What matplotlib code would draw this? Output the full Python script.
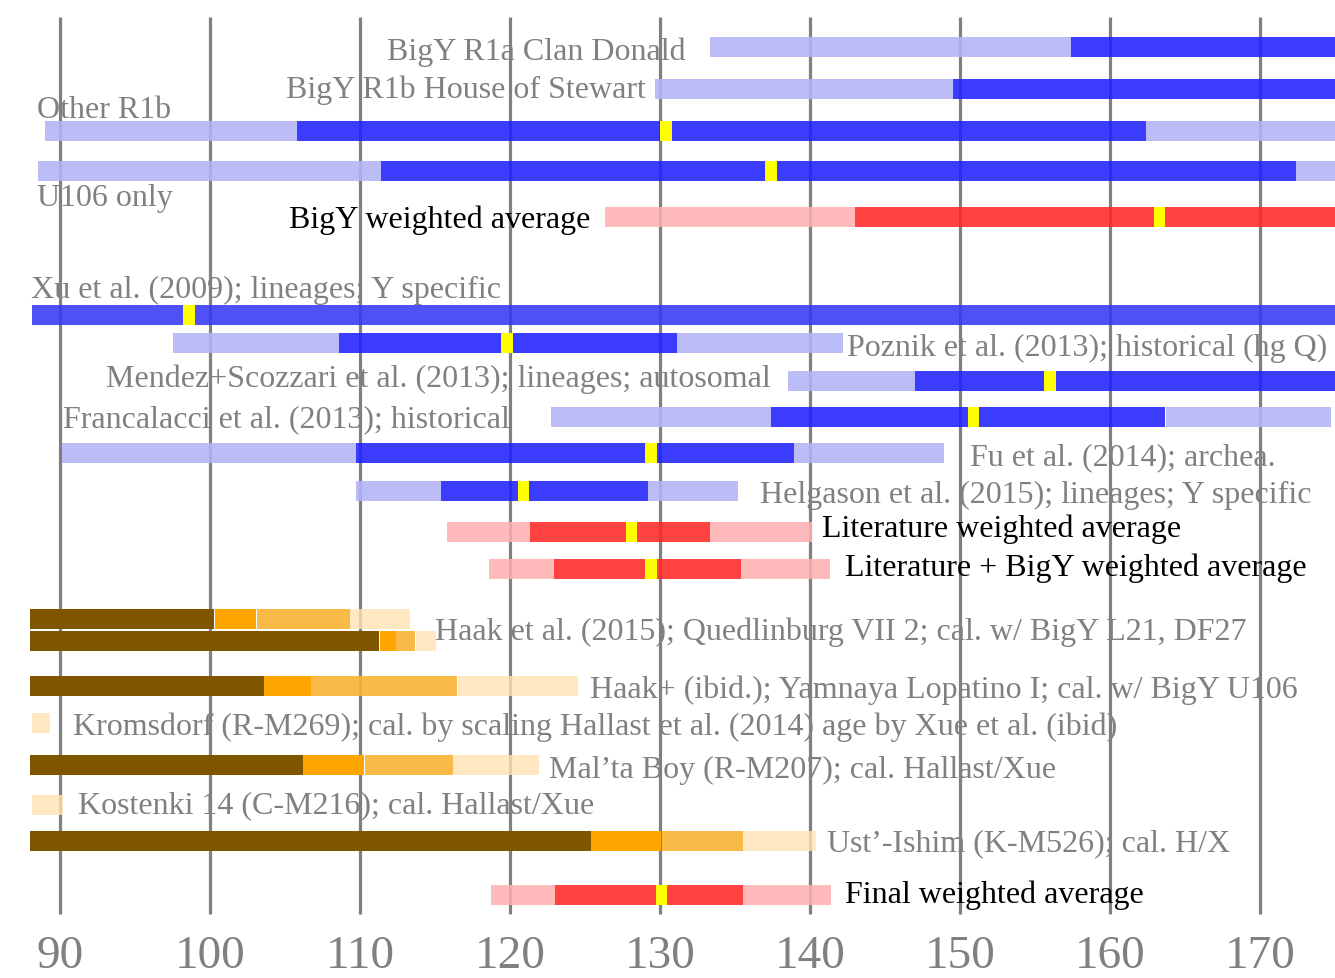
import matplotlib
matplotlib.use("Agg")
import matplotlib.pyplot as plt

# ---------------- data ----------------
# Interval rows: (outer_lo, inner_lo, mean, inner_hi, outer_hi); None = not shown
row_names = [
    "BigY R1a Clan Donald",
    "BigY R1b House of Stewart",
    "Other R1b",
    "U106 only",
    "BigY weighted average",
    "Xu et al. (2009); lineages; Y specific",
    "Poznik et al. (2013); historical (hg Q)",
    "Mendez+Scozzari et al. (2013); lineages; autosomal",
    "Francalacci et al. (2013); historical",
    "Fu et al. (2014); archea.",
    "Helgason et al. (2015); lineages; Y specific",
    "Literature weighted average",
    "Literature + BigY weighted average",
]
outer_lo = [133.3, 129.7, 89.0, 88.5, 126.3, None, 97.5, 138.5, 122.7, 90.1, 109.7, 115.8, 118.6]
inner_lo = [157.4, 149.5, 105.8, 111.4, 143.0, 88.1, 108.6, 147.0, 137.4, 109.7, 115.4, 121.3, 122.9]
means    = [None, None, 130.4, 137.4, 163.3, 98.6, 119.8, 156.0, 150.9, 129.4, 120.9, 128.1, 129.4]
inner_hi = [176.0, 176.0, 162.4, 172.4, 176.0, 176.0, 131.1, 176.0, 163.7, 138.9, 129.2, 133.3, 135.4]
outer_hi = [None, None, 176.0, 176.0, None, None, 142.2, None, 174.7, 148.9, 135.2, 140.1, 141.3]
row_kind = ["blue", "blue", "blue", "blue", "red", "xu", "blue", "blue", "blue", "blue", "blue", "red", "red"]

# Calibrated ancient-sample rows: stacked segment ends starting at 88
anc_names = [
    "Haak et al. (2015); Quedlinburg VII 2; cal. w/ BigY L21, DF27",
    "",
    "Haak+ (ibid.); Yamnaya Lopatino I; cal. w/ BigY U106",
    "Kromsdorf (R-M269); cal. by scaling Hallast et al. (2014) age by Xue et al. (ibid)",
    "Mal\u2019ta Boy (R-M207); cal. Hallast/Xue",
    "Kostenki 14 (C-M216); cal. Hallast/Xue",
    "Ust\u2019-Ishim (K-M526); cal. H/X",
]
anc_start = 88.0
brown_end   = [100.3, 111.3, 103.6, None, 106.2, None, 125.4]
orange_end  = [103.1, 112.4, 106.7, None, 110.3, None, 130.1]
lorange_end = [109.3, 113.7, 116.5, None, 116.2, None, 135.5]
pale_end    = [113.3, 115.1, 124.5, 89.3, 121.9, 90.2, 140.4]
anc_pale_start = [None, None, None, 88.1, None, 88.1, None]

final_name = "Final weighted average"
final_vals = (118.7, 123.0, 130.1, 135.5, 141.4)

xticks = [90, 100, 110, 120, 130, 140, 150, 160, 170]

# ---------------- layout ----------------
W, H = 1335, 979
XMIN, XMAX = 86.0, 175.0
row_y = [47.7, 89.7, 131.8, 171.8, 218.3, 315.8, 343.8, 382.0, 417.8, 453.8, 491.8, 532.5, 570.3]
anc_y = [620.2, 642.3, 687.0, 724.0, 766.0, 806.0, 842.3]
final_y = 895.5
BAR_H = 20
MEAN_W = 0.75

# label layout: (x, baseline y, ha, colour)
row_lab = [
    (131.73, 60, "right", "g"), (129.07, 98, "right", "g"), (88.47, 118, "left", "g"),
    (88.47, 206, "left", "g"), (125.33, 228, "right", "k"), (88.07, 298, "left", "g"),
    (142.47, 356, "left", "g"), (137.4, 387, "right", "g"), (90.2, 427, "left", "g"),
    (150.67, 465, "left", "g"), (136.67, 503, "left", "g"), (140.8, 537, "left", "k"),
    (142.33, 576, "left", "k"),
]
anc_lab = [
    (115.0, 640), None, (125.33, 698), (90.87, 735), (122.6, 778), (91.2, 813), (141.13, 851),
]
final_lab = (142.33, 903)

GRAY = "#808080"
col = {
    "light": (0.70, 0.70, 0.97, 0.88),
    "blue": (0.13, 0.13, 1.0, 0.88),
    "xu": (0.22, 0.22, 0.97, 0.88),
    "pink": (1.0, 0.69, 0.69, 0.85),
    "red": (1.0, 0.16, 0.16, 0.88),
    "yellow": "#FFFF00",
    "brown": "#7F5500",
    "orange": "#FFA500",
    "lorange": (0.98, 0.70, 0.20, 0.9),
    "pale": (1.0, 0.89, 0.70, 0.8),
}

plt.rcParams["font.family"] = ["Liberation Serif", "DejaVu Serif"]
fig = plt.figure(figsize=(W / 100, H / 100), dpi=100)
ax = fig.add_axes([0, 0, 1, 1])
ax.set_xlim(XMIN, XMAX)
ax.set_ylim(H, 0)
ax.axis("off")

# grid lines
ax.vlines(xticks, 18, 915, color=GRAY, lw=2.3, zorder=1)
for t in xticks:
    ax.text(t, 968, str(t), ha="center", va="baseline", fontsize=34, color=GRAY)


def seg(y, a, b, c, z=2):
    if a is None or b is None:
        return
    ax.barh(y, b - a, left=a, height=BAR_H, color=c, lw=0, zorder=z)


for i in range(len(row_names)):
    y = row_y[i]
    k = row_kind[i]
    lightc = "pink" if k == "red" else "light"
    darkc = {"red": "red", "blue": "blue", "xu": "xu"}[k]
    seg(y, outer_lo[i], inner_lo[i], col[lightc])
    seg(y, inner_lo[i], inner_hi[i], col[darkc])
    seg(y, inner_hi[i], outer_hi[i], col[lightc])
    if means[i] is not None:
        seg(y, means[i] - MEAN_W / 2, means[i] + MEAN_W / 2, col["yellow"], z=3)
    lx, ly, ha, c = row_lab[i]
    ax.text(lx, ly, row_names[i], ha=ha, va="baseline", fontsize=23,
            color=GRAY if c == "g" else "black", zorder=4)

for i in range(len(anc_names)):
    y = anc_y[i]
    if brown_end[i] is not None:
        seg(y, anc_start, brown_end[i], col["brown"], z=3)
        seg(y, brown_end[i], orange_end[i], col["orange"], z=3)
        seg(y, orange_end[i], lorange_end[i], col["lorange"])
        seg(y, lorange_end[i], pale_end[i], col["pale"])
    else:
        seg(y, anc_pale_start[i], pale_end[i], col["pale"])
    if anc_lab[i] is not None:
        lx, ly = anc_lab[i]
        ax.text(lx, ly, anc_names[i], ha="left", va="baseline", fontsize=23, color=GRAY, zorder=4)

a, b, m, c2, d = final_vals
seg(final_y, a, b, col["pink"])
seg(final_y, b, c2, col["red"])
seg(final_y, c2, d, col["pink"])
seg(final_y, m - MEAN_W / 2, m + MEAN_W / 2, col["yellow"], z=3)
ax.text(final_lab[0], final_lab[1], final_name, ha="left", va="baseline", fontsize=23, color="black", zorder=4)

fig.savefig("out.png", dpi=100)
